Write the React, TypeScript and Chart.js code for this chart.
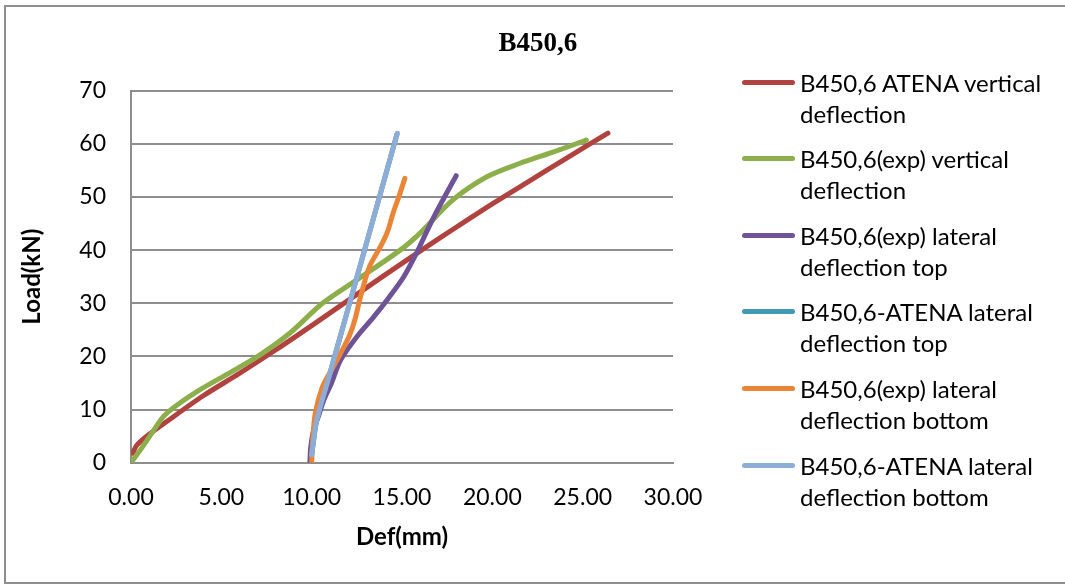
import React, { useEffect, useRef } from "react";
import { Chart, registerables } from "chart.js";

Chart.register(...registerables);

// ---- data ----
const atenaVertX = [0.1, 0.3, 0.8, 2, 4, 6, 8, 10, 12, 14, 16, 18, 20, 22, 24, 26.4];
const atenaVertY = [1.8, 3.2, 4.8, 7.8, 12.6, 16.8, 21.2, 25.8, 30.5, 35.2, 39.8, 44.3, 48.7, 52.9, 57.1, 62];

const expVertX = [0, 0.6, 1.2, 1.8, 2.4, 3.8, 5.5, 7.1, 8.8, 10.6, 12.5, 14.9, 16, 17.8, 19.7, 21.5, 23.4, 25.2];
const expVertY = [0, 2.8, 5.8, 8.7, 10.5, 13.7, 17, 20.2, 24.4, 30, 34.4, 40, 43.2, 49.4, 53.8, 56.3, 58.5, 60.7];

const expLatTopX = [9.9, 9.95, 10.1, 10.4, 10.7, 11.1, 11.6, 12.5, 13.4, 14.3, 15.1, 15.8, 16.3, 16.8, 17.4, 18.0];
const expLatTopY = [0, 3, 6, 9, 12, 15, 19.3, 23.7, 27.3, 31.2, 35, 39.4, 43, 46.5, 50.3, 54];

const atenaLatTopX = [10, 10.1, 10.28, 11, 12, 13, 14, 14.72];
const atenaLatTopY = [1.5, 4, 8, 16.7, 28.8, 40.9, 53, 61.8];

const expLatBotX = [10, 10.05, 10.2, 10.6, 11.1, 11.6, 12.1, 12.4, 12.7, 13.2, 13.8, 14.2, 14.5, 14.85, 15.16];
const expLatBotY = [0, 4, 9.3, 14.3, 17.5, 20.6, 24, 27, 31.2, 36.9, 40.6, 43.5, 46.9, 50.3, 53.5];

const atenaLatBotX = [10, 10.1, 10.28, 11, 12, 13, 14, 14.74];
const atenaLatBotY = [1.5, 4, 8, 16.7, 28.8, 40.9, 53, 62];

const seriesLabels: string[][] = [
  ["B450,6 ATENA vertical", "deflection"],
  ["B450,6(exp) vertical", "deflection"],
  ["B450,6(exp) lateral", "deflection top"],
  ["B450,6-ATENA lateral", "deflection top"],
  ["B450,6(exp) lateral", "deflection bottom"],
  ["B450,6-ATENA lateral", "deflection bottom"],
];
const seriesColors = ["#B0433F", "#8DAF4B", "#6E5496", "#4299B3", "#EA8537", "#8EADD6"];
const seriesX = [atenaVertX, expVertX, expLatTopX, atenaLatTopX, expLatBotX, atenaLatBotX];
const seriesY = [atenaVertY, expVertY, expLatTopY, atenaLatTopY, expLatBotY, atenaLatBotY];

const chartTitle = "B450,6";
const xTitle = "Def(mm)";
const yTitle = "Load(kN)";

const FONT = "Lato, 'Open Sans', sans-serif";
const GRID = "#8e8e8e";

export default function App() {
  const ref = useRef<HTMLCanvasElement>(null);

  useEffect(() => {
    document.body.style.margin = "0";
    const canvas = ref.current!;
    const datasets = seriesX.map((xs, i) => ({
      label: seriesLabels[i].join(" "),
      data: xs.map((x, j) => ({ x, y: seriesY[i][j] })),
      borderColor: seriesColors[i],
      backgroundColor: seriesColors[i],
      borderWidth: 5,
      pointRadius: 0,
      tension: 0.3,
      fill: false,
      borderCapStyle: "round" as const,
      borderJoinStyle: "round" as const,
      order: seriesX.length - i,
    }));
    const chart = new Chart(canvas, {
      type: "line",
      data: { datasets },
      options: {
        responsive: false,
        animation: false,
        layout: { padding: { left: 0, top: 90.7, right: 392, bottom: 0 } },
        plugins: {
          legend: { display: false },
          title: { display: false },
          tooltip: { enabled: false },
        },
        scales: {
          x: {
            type: "linear",
            min: 0,
            max: 30,
            ticks: {
              stepSize: 5,
              callback: (v: any) => Number(v).toFixed(2),
              font: { family: FONT, size: 23 },
              color: "#000",
              padding: 21,
              maxRotation: 0,
            },
            grid: { display: false, drawTicks: false },
            border: { display: true, color: GRID, width: 2 },
            title: {
              display: true,
              text: xTitle,
              font: { family: FONT, size: 24, weight: "bold" },
              color: "#000",
              padding: { top: 0, bottom: 35 },
            },
            afterFit: (s: any) => {
              s.height = 124.3;
            },
          },
          y: {
            type: "linear",
            min: 0,
            max: 70,
            ticks: {
              stepSize: 10,
              font: { family: FONT, size: 23 },
              color: "#000",
              padding: 25,
            },
            grid: { display: true, drawTicks: false, color: GRID, lineWidth: 2 },
            border: { display: true, color: GRID, width: 2 },
            title: {
              display: true,
              text: yTitle,
              font: { family: FONT, size: 24, weight: "bold" },
              color: "#000",
              padding: { top: 18, bottom: 0 },
            },
            afterFit: (s: any) => {
              s.width = 131;
            },
          },
        },
      },
    });
    return () => chart.destroy();
  }, []);

  return (
    <div style={{ position: "relative", width: 1065, height: 587, overflow: "hidden", background: "#fff" }}>
      <div
        style={{
          position: "absolute",
          left: 4,
          top: 5,
          width: 1100,
          height: 579,
          border: "2px solid #8e8e8e",
          boxSizing: "border-box",
        }}
      />
      <canvas ref={ref} width={1065} height={587} style={{ position: "absolute", left: 0, top: 0 }} />
      <div
        style={{
          position: "absolute",
          left: 0,
          width: 1076,
          top: 27,
          lineHeight: "30px",
          textAlign: "center",
          fontFamily: "'Liberation Serif', serif",
          fontWeight: "bold",
          fontSize: 27,
          color: "#000",
        }}
      >
        {chartTitle}
      </div>
      {seriesLabels.map((lines, i) => {
        const top = 66.5 + i * 76.6;
        return (
          <div key={i} style={{ position: "absolute", left: 0, top: 0 }}>
            <div
              style={{
                position: "absolute",
                left: 742,
                top: top + 15.5 - 2.5,
                width: 53,
                height: 5,
                borderRadius: 3,
                background: seriesColors[i],
              }}
            />
            <div
              style={{
                position: "absolute",
                left: 800,
                top,
                width: 265,
                fontFamily: FONT,
                fontSize: 24,
                lineHeight: "31px",
                color: "#000",
                whiteSpace: "nowrap",
              }}
            >
              {lines.map((t, k) => (
                <div key={k}>{t}</div>
              ))}
            </div>
          </div>
        );
      })}
    </div>
  );
}
